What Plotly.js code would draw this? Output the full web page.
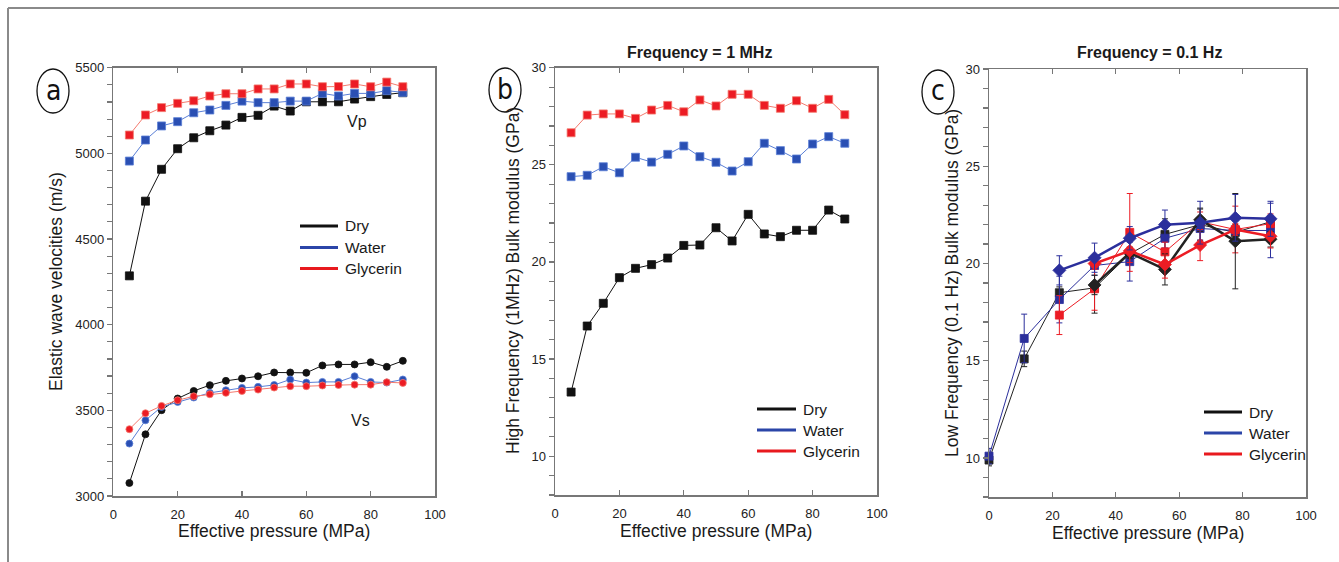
<!DOCTYPE html>
<html>
<head>
<meta charset="utf-8">
<script src="https://cdn.plot.ly/plotly-3.0.1.min.js"></script>
<style>html,body{margin:0;padding:0;background:#fff;}#chart{width:1339px;height:562px;}</style>
</head>
<body>
<div id="chart"></div>
<script>
// ---------- Panel a : elastic wave velocities ----------
const pressureA = [5,10,15,20,25,30,35,40,45,50,55,60,65,70,75,80,85,90];
const vpDry   = [4285,4721,4907,5027,5091,5132,5165,5210,5222,5276,5247,5301,5301,5301,5317,5331,5344,5354];
const vpWater = [4955,5078,5160,5185,5237,5253,5280,5305,5296,5296,5305,5305,5350,5335,5350,5350,5366,5356];
const vpGly   = [5107,5224,5267,5292,5307,5335,5348,5348,5376,5376,5405,5405,5389,5390,5405,5389,5416,5389];
const vsDry   = [3076,3360,3501,3569,3613,3647,3672,3686,3699,3721,3721,3719,3762,3768,3768,3781,3754,3789];
const vsWater = [3306,3442,3520,3549,3575,3602,3617,3631,3637,3648,3680,3662,3666,3666,3699,3666,3662,3680];
const vsGly   = [3390,3483,3526,3559,3582,3594,3602,3613,3621,3633,3641,3641,3645,3648,3650,3650,3664,3660];

// ---------- Panel b : high frequency bulk modulus ----------
const pressureB = [5,10,15,20,25,30,35,40,45,50,55,60,65,70,75,80,85,90];
const kHfDry   = [13.30,16.70,17.87,19.19,19.67,19.86,20.20,20.85,20.87,21.76,21.08,22.45,21.44,21.30,21.63,21.63,22.67,22.21];
const kHfWater = [24.39,24.46,24.90,24.59,25.39,25.14,25.54,25.97,25.42,25.13,24.68,25.16,26.11,25.73,25.30,26.07,26.45,26.11];
const kHfGly   = [26.65,27.56,27.62,27.62,27.39,27.82,28.06,27.73,28.34,28.03,28.63,28.63,28.06,27.91,28.30,27.91,28.37,27.58];

// ---------- Panel c : low frequency bulk modulus ----------
const pressureC = [0,11.1,22.2,33.3,44.4,55.5,66.6,77.7,88.8];
const kLfDry1      = [9.9,15.1,18.5,18.75,20.5,21.5,22.0,21.6,22.15];
const kLfDry1Err   = [0.3,0.4,0.3,1.3,0.3,0.8,0.8,0.4,0.3];
const kLfDry2      = [null,null,null,18.9,20.55,19.7,22.25,21.15,21.25];
const kLfDry2Err   = [0,0,0,0.5,0.3,0.8,0.6,2.45,0.4];
const kLfWater1    = [10.1,16.15,18.15,19.9,20.1,21.3,21.8,21.7,21.7];
const kLfWater1Err = [0.4,1.25,1.2,0.5,1.0,0.5,0.6,0.5,1.4];
const kLfWater2    = [null,null,19.65,20.3,21.3,22.0,22.1,22.35,22.3];
const kLfWater2Err = [0,0,0.75,0.75,0.6,0.75,1.1,1.2,0.9];
const kLfGly1      = [null,null,17.35,18.7,21.6,20.6,22.15,21.75,22.05];
const kLfGly1Err   = [0,0,1.0,1.1,2.0,0.5,0.5,1.2,0.5];
const kLfGly2      = [null,null,null,20.0,20.65,19.95,20.95,21.75,21.4];
const kLfGly2Err   = [0,0,0,0.3,0.6,0.7,0.8,0.3,0.6];

const seriesNames = ['Dry','Water','Glycerin'];
const panelTitles = ['Frequency = 1 MHz','Frequency = 0.1 Hz'];

// ---------- styling ----------
const W = 1339, H = 562;
const px = x => x / W;
const py = y => 1 - y / H;
const BLACK = '#111111', BLUE = '#2a4fb3', RED = '#ec1c24';
const BLUE_C = '#2b2f9c';
const FONT = 'Liberation Sans, Arial, sans-serif';
const AX = '#777777';

function line(x, y, xa, ya, color, sym, size, lw, lineColor) {
  return {
    x: x, y: y, xaxis: xa, yaxis: ya, type: 'scatter', mode: 'lines+markers',
    showlegend: false, cliponaxis: false, hoverinfo: 'skip',
    line: {color: lineColor || color, width: lw},
    marker: {symbol: sym, size: size, color: color, line: {width: 0.8, color: lineColor || color}}
  };
}
function errLine(x, y, err, xa, ya, color, sym, size, lw) {
  const t = line(x, y, xa, ya, color, sym, size, lw, color);
  t.error_y = {type: 'data', array: err, visible: true, color: color, thickness: 1, width: 3};
  return t;
}

const traces = [
  line(pressureA, vpDry, 'x', 'y', BLACK, 'square', 8, 1),
  line(pressureA, vpWater, 'x', 'y', BLUE, 'square', 8, 1, '#5a7fd6'),
  line(pressureA, vpGly, 'x', 'y', RED, 'square', 8, 1, '#f47a6e'),
  line(pressureA, vsDry, 'x', 'y', BLACK, 'circle', 7, 1),
  line(pressureA, vsWater, 'x', 'y', BLUE, 'circle', 7, 1, '#5a7fd6'),
  line(pressureA, vsGly, 'x', 'y', RED, 'circle', 7, 1, '#f47a6e'),

  line(pressureB, kHfDry, 'x2', 'y2', BLACK, 'square', 8, 1),
  line(pressureB, kHfWater, 'x2', 'y2', BLUE, 'square', 8, 1, '#5a7fd6'),
  line(pressureB, kHfGly, 'x2', 'y2', RED, 'square', 8, 1, '#f47a6e'),

  errLine(pressureC, kLfDry1, kLfDry1Err, 'x3', 'y3', '#222222', 'square', 8, 1),
  errLine(pressureC, kLfWater1, kLfWater1Err, 'x3', 'y3', BLUE_C, 'square', 8, 1),
  errLine(pressureC, kLfGly1, kLfGly1Err, 'x3', 'y3', RED, 'square', 8, 1),
  errLine(pressureC, kLfDry2, kLfDry2Err, 'x3', 'y3', '#222222', 'diamond', 10, 2.5),
  errLine(pressureC, kLfGly2, kLfGly2Err, 'x3', 'y3', RED, 'diamond', 10, 2.5),
  errLine(pressureC, kLfWater2, kLfWater2Err, 'x3', 'y3', BLUE_C, 'diamond', 10, 2.5)
];

function xAxis(dom, anchor) {
  return {
    domain: dom, anchor: anchor, range: [0, 100], dtick: 20, tick0: 0,
    ticks: 'inside', ticklen: 5, tickwidth: 1.2, tickcolor: AX,
    showline: true, linecolor: AX, linewidth: 1.5, mirror: 'ticks',
    showgrid: false, zeroline: false, ticklabelstandoff: 6,
    tickfont: {family: FONT, size: 13, color: '#222'}
  };
}
function yAxis(dom, anchor, range, dtick, minor) {
  return {
    domain: dom, anchor: anchor, range: range, dtick: dtick, tick0: 0,
    ticks: 'outside', ticklen: 5, tickwidth: 1.2, tickcolor: AX,
    minor: {dtick: minor, ticks: 'outside', ticklen: 5, tickwidth: 1.2, tickcolor: AX, showgrid: false},
    showline: true, linecolor: AX, linewidth: 1.5, mirror: true,
    showgrid: false, zeroline: false,
    tickfont: {family: FONT, size: 13, color: '#222'}
  };
}
function yRight(over, anchor, range, dtick, minor) {
  return {
    overlaying: over, side: 'right', anchor: anchor, range: range, dtick: dtick, tick0: 0,
    ticks: 'inside', ticklen: 5, tickwidth: 1.2, tickcolor: AX,
    minor: {dtick: minor, ticks: 'inside', ticklen: 5, tickwidth: 1.2, tickcolor: AX, showgrid: false},
    showline: false, showgrid: false, zeroline: false, showticklabels: false
  };
}

const domA = [px(113.3), px(435)], domAy = [py(496), py(67.7)];
const domB = [px(555), px(877)], domBy = [py(495), py(67.7)];
const domC = [px(989), px(1306)], domCy = [py(497), py(69)];

const ann = [];
const shapes = [];
function text(x, y, t, size, opts) {
  ann.push(Object.assign({xref: 'paper', yref: 'paper', x: px(x), y: py(y), text: t, showarrow: false,
    font: {family: FONT, size: size, color: '#1a1a1a'}, xanchor: 'center', yanchor: 'middle'}, opts || {}));
}
// axis titles
text(274, 531, 'Effective pressure (MPa)', 17.5);
text(716, 531, 'Effective pressure (MPa)', 17.5);
text(1148, 533, 'Effective pressure (MPa)', 17.5);
text(56, 282, 'Elastic wave velocities (m/s)', 17.5, {textangle: -90});
text(513, 281, 'High Frequency (1MHz) Bulk modulus (GPa)', 17.5, {textangle: -90});
text(952, 283, 'Low Frequency (0.1 Hz) Bulk modulus (GPa)', 17.5, {textangle: -90});
// panel titles
text(700, 52, '<b>' + panelTitles[0] + '</b>', 16);
text(1149, 52, '<b>' + panelTitles[1] + '</b>', 16);
// Vp / Vs
text(357, 122, 'Vp', 16);
text(360, 420, 'Vs', 16);

// legends
const legendColors = [BLACK, '#2b45a8', '#e8191e'];
function legend(x0, x1, xt, ys) {
  for (let i = 0; i < 3; i++) {
    shapes.push({type: 'line', xref: 'paper', yref: 'paper', x0: px(x0), x1: px(x1), y0: py(ys[i]), y1: py(ys[i]),
      line: {color: legendColors[i], width: 3.2}});
    text(xt, ys[i], seriesNames[i], 15.5, {xanchor: 'left'});
  }
}
legend(300, 338, 343, [226, 247.5, 268.5]);
legend(757, 796, 801, [409, 430, 451]);
legend(1204, 1242, 1247, [412, 433, 454]);

// panel letters
function letter(cx, cy, l) {
  shapes.push({type: 'circle', xref: 'paper', yref: 'paper', x0: px(cx - 16), x1: px(cx + 16), y0: py(cy + 22), y1: py(cy - 22),
    line: {color: '#111', width: 1.3}, fillcolor: 'rgba(0,0,0,0)'});
  text(cx, cy - 1, l, 28, {font: {family: 'Liberation Sans Narrow, DejaVu Sans Condensed, Arial Narrow, sans-serif', size: 28, color: '#111'}});
}
letter(53, 91, 'a');
letter(505, 90, 'b');
letter(938, 92, 'c');

// frame lines of the figure
shapes.push({type: 'line', xref: 'paper', yref: 'paper', x0: px(8), x1: px(8), y0: py(8), y1: 0, line: {color: '#8a8a8a', width: 2}});
shapes.push({type: 'line', xref: 'paper', yref: 'paper', x0: px(8), x1: 1, y0: py(8), y1: py(8), line: {color: '#8a8a8a', width: 2}});

const layout = {
  width: W, height: H, margin: {l: 0, r: 0, t: 0, b: 0},
  paper_bgcolor: '#ffffff', plot_bgcolor: '#ffffff', showlegend: false,
  font: {family: FONT},
  xaxis: xAxis(domA, 'y'),
  yaxis: yAxis(domAy, 'x', [3000, 5500], 500, 100),
  xaxis2: xAxis(domB, 'y2'),
  yaxis2: yAxis(domBy, 'x2', [8, 30], 5, 1),
  xaxis3: xAxis(domC, 'y3'),
  yaxis3: yAxis(domCy, 'x3', [8, 30], 5, 1),
  yaxis4: yRight('y', 'x', [3000, 5500], 500, 100),
  yaxis5: yRight('y2', 'x2', [8, 30], 5, 1),
  yaxis6: yRight('y3', 'x3', [8, 30], 5, 1),
  annotations: ann,
  shapes: shapes
};

Plotly.newPlot('chart', traces, layout, {displayModeBar: false, staticPlot: true});
</script>
</body>
</html>
